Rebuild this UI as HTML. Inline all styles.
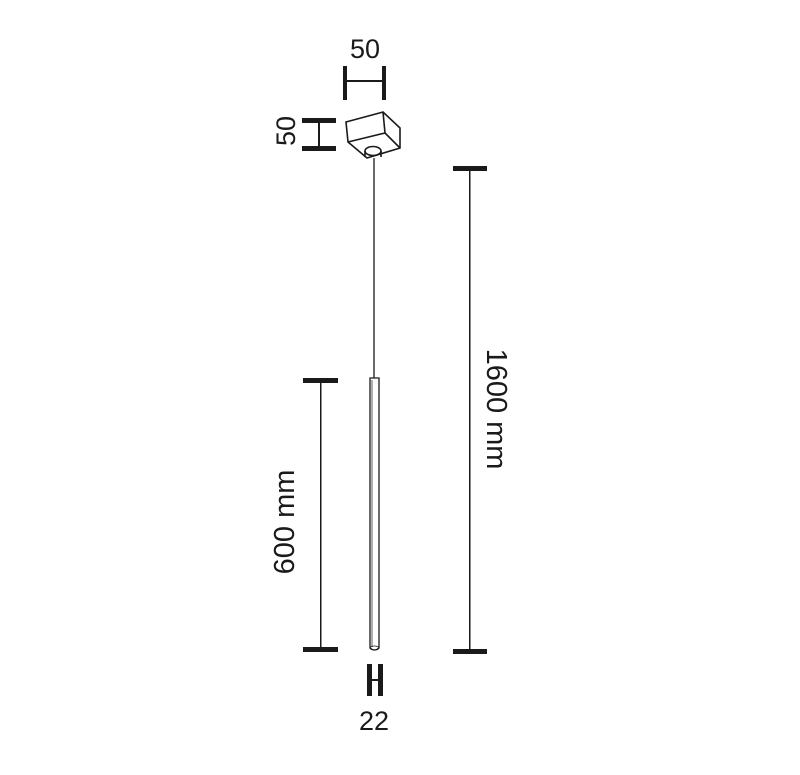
<!DOCTYPE html>
<html><head><style>body{margin:0;background:#fff}svg{display:block}</style></head>
<body>
<svg width="800" height="775" viewBox="0 0 800 775" xmlns="http://www.w3.org/2000/svg" font-family="Liberation Sans, sans-serif" fill="#1a1a1a">
<!-- top 50 -->
<text x="365" y="58" font-size="27" text-anchor="middle">50</text>
<rect x="343" y="66" width="4" height="34"/>
<rect x="382" y="66" width="4" height="34"/>
<rect x="345" y="80" width="39" height="2"/>
<!-- left 50 -->
<text transform="translate(295,131) rotate(-90)" font-size="27" text-anchor="middle">50</text>
<rect x="302" y="118" width="34" height="5"/>
<rect x="302" y="146" width="34" height="5"/>
<rect x="318" y="120" width="2" height="29"/>
<!-- box -->
<g fill="none" stroke="#1a1a1a" stroke-width="1.6">
<path d="M346 122 L383 112 L400 128 L400 148 L367 158 L348 142 Z"/>
<path d="M383 112 L385 133 L348 142 M385 133 L400 148"/>
<ellipse cx="373" cy="151" rx="8" ry="4.5" fill="#fff"/>
<path d="M365 151 L365 157 M381 151 L381 157"/>
<line x1="374" y1="158" x2="374" y2="378" stroke-width="1.3"/>
<path d="M370 378 L379 378 L379 648 Q374.5 652 370 648 Z" stroke-width="1.3" fill="#fff"/>
<line x1="372" y1="380" x2="372" y2="647" stroke-width="0.7"/>
<ellipse cx="374.5" cy="648" rx="4.5" ry="2" stroke-width="0.8"/>
</g>
<!-- 600 dimension -->
<rect x="303" y="378" width="35" height="5"/>
<rect x="303" y="647" width="35" height="5"/>
<rect x="320" y="380" width="1.5" height="270"/>
<text transform="translate(294,522) rotate(-90)" font-size="29" text-anchor="middle">600 mm</text>
<!-- 1600 dimension -->
<rect x="453" y="166" width="34" height="5"/>
<rect x="453" y="649" width="34" height="5"/>
<rect x="469" y="168" width="1.5" height="484"/>
<text transform="translate(487,409) rotate(90)" font-size="29" text-anchor="middle">1600 mm</text>
<!-- 22 -->
<rect x="367" y="664" width="5" height="32"/>
<rect x="378" y="664" width="5" height="32"/>
<rect x="370" y="679" width="10" height="2"/>
<text x="374" y="730" font-size="27" text-anchor="middle">22</text>
</svg>
</body></html>
